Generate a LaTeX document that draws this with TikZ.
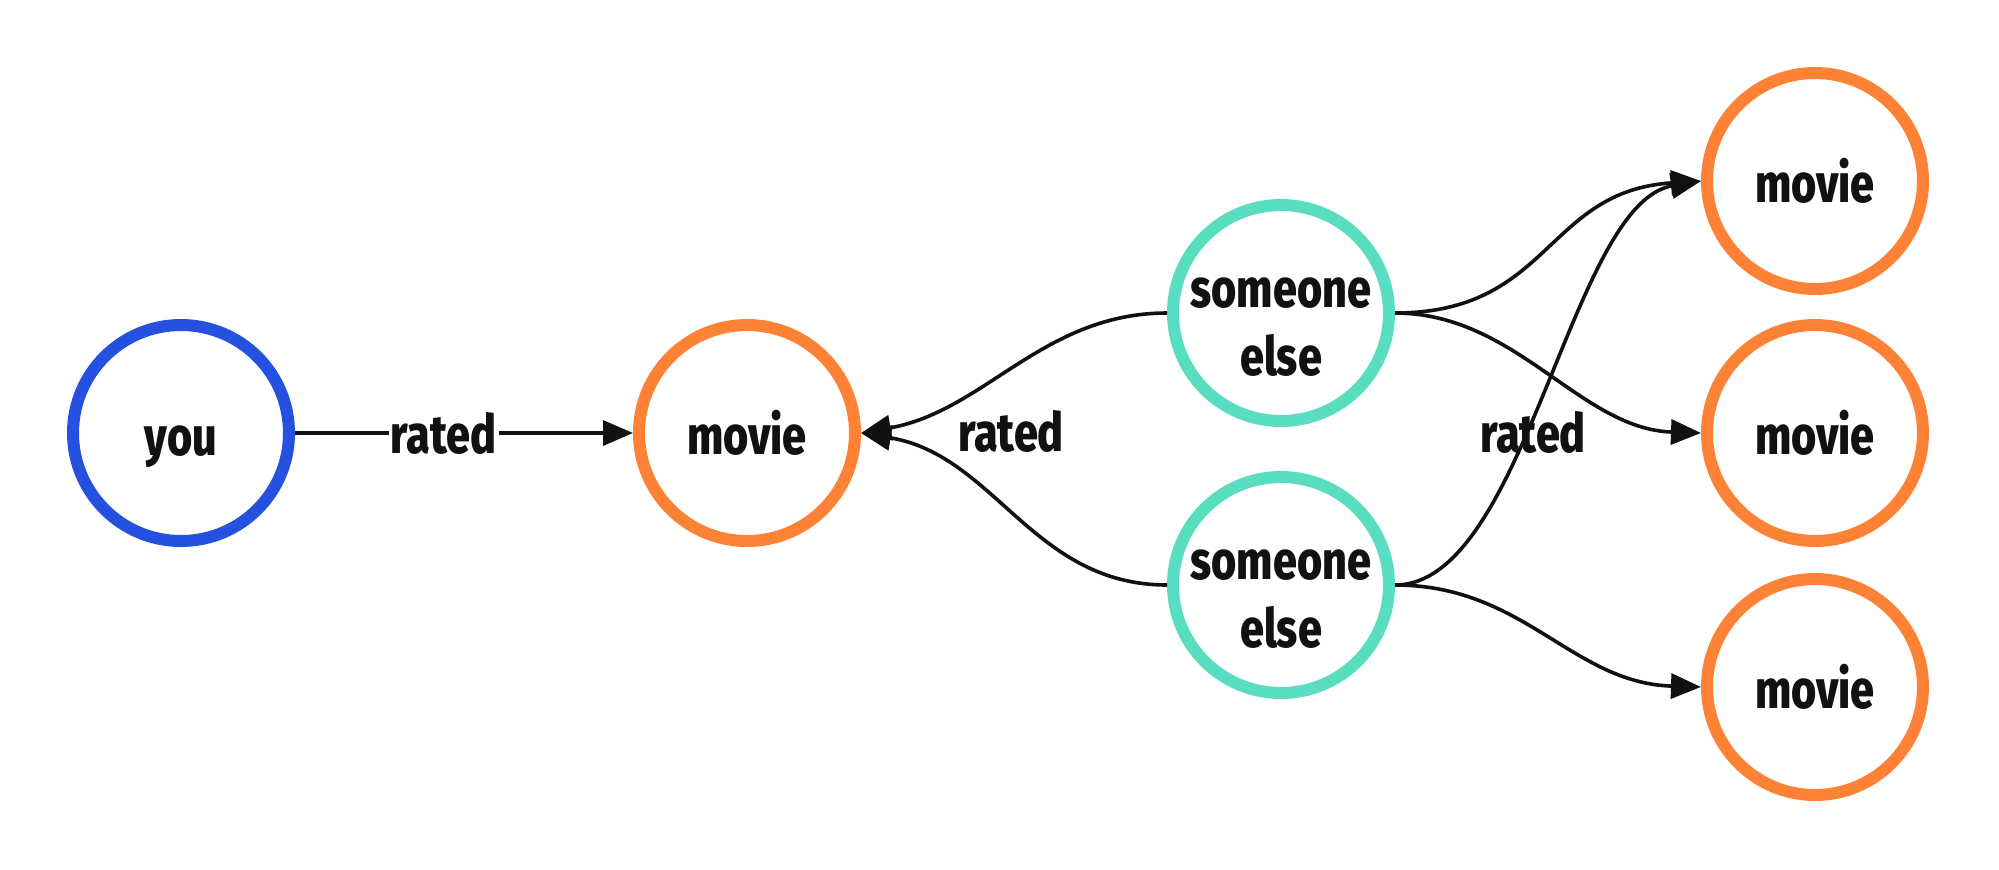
\documentclass[tikz,border=0pt]{standalone}
\usepackage{fontspec}
\setmainfont{Fira Sans}[FakeStretch=0.8, BoldFont={Fira Sans ExtraBold}]
\usetikzlibrary{arrows.meta}
\definecolor{cblue}{HTML}{2550E0}
\definecolor{corange}{HTML}{FE8235}
\definecolor{cteal}{HTML}{58DDC0}
\definecolor{ctext}{HTML}{111111}
\tikzset{
  txt/.style={text=ctext, font=\fontsize{27}{34}\selectfont\bfseries},
  ent/.style={circle, draw, line width=6pt, minimum size=108pt, inner sep=0pt,
    fill=white, txt, align=center},
  person/.style={ent, draw=cteal},
  youbox/.style={ent, draw=cblue},
  moviebox/.style={ent, draw=corange},
  edge/.style={draw=ctext, line width=1.8pt, -{Triangle[length=15pt,width=12.5pt]}},
  lbl/.style={txt, inner sep=1pt},
  twoline/.style={label={[txt, align=center, yshift=-7pt]center:#1}}
}
\begin{document}
\begin{tikzpicture}[x=0.5pt, y=-0.5pt]
\useasboundingbox (0,0) rectangle (1999,869);
\node[youbox, text depth=0pt] (you) at (181,433) {\vphantom{i}you};
\node[moviebox] (mv)  at (747,433)  {movie};
\node[person, twoline={someone\\else}] (s1) at (1281,313) {};
\node[person, twoline={someone\\else}] (s2) at (1281,585) {};
\node[moviebox] (m1)  at (1815,181) {movie};
\node[moviebox] (m2)  at (1815,433) {movie};
\node[moviebox] (m3)  at (1815,687) {movie};

\draw[edge] (you.east) -- node[lbl, fill=white, pos=0.44] (l1) {rated} (mv.west);

\draw[edge] (s1.west) .. controls +(-124,0) and +(124,-22) .. (mv.east);
\draw[edge] (s2.west) .. controls +(-134,0) and +(134,22) .. (mv.east);

\draw[edge] (s1.east) .. controls +(156,0) and +(-156,10) .. (m1.west);
\draw[edge] (s2.east) .. controls +(131,0) and +(-131,22) .. (m1.west);
\draw[edge] (s1.east) .. controls +(121,0) and +(-121,-4) .. (m2.west);
\draw[edge] (s2.east) .. controls +(129,0) and +(-129,-4) .. (m3.west);

\node[lbl] (l2) at (1011,431) {rated};
\node[lbl] (l3) at (1533,432) {rated};
\end{tikzpicture}
\end{document}
